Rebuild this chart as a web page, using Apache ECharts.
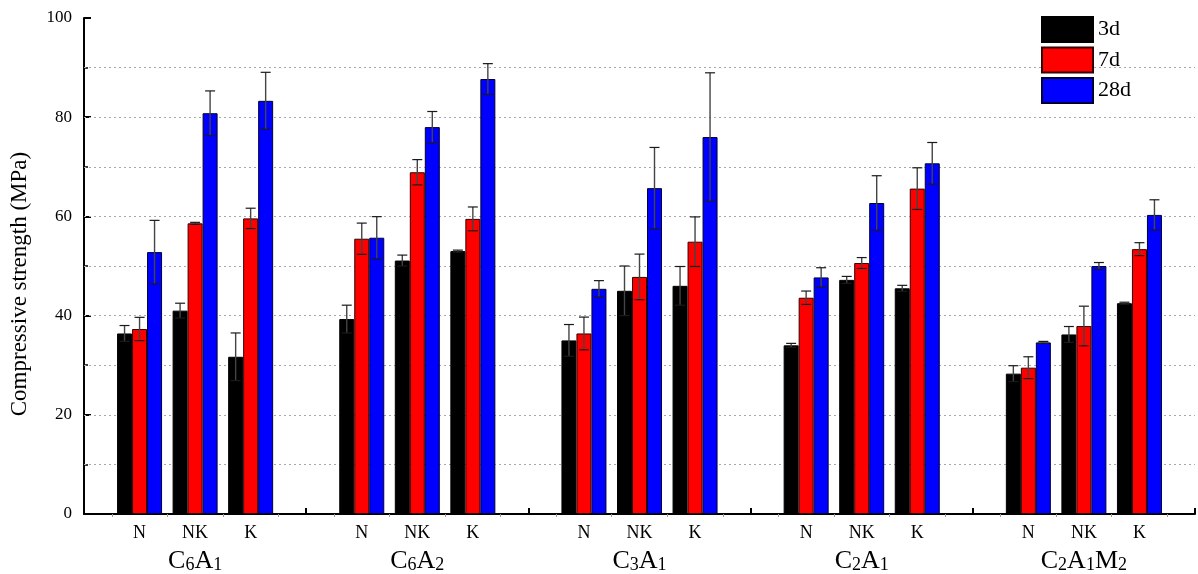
<!DOCTYPE html>
<html>
<head>
<meta charset="utf-8">
<script src="https://cdn.jsdelivr.net/npm/echarts@6/dist/echarts.min.js"></script>
<style>
  html, body { margin: 0; padding: 0; background: #fff; }
  #chart { width: 1198px; height: 574px; }
</style>
</head>
<body>
<div id="chart"></div>
<script>
// Binder compositions and mixes
const groups = ['C6A1', 'C6A2', 'C3A1', 'C2A1', 'C2A1M2'];
const mixes = ['N', 'NK', 'K'];
const ages = ['3d', '7d', '28d'];

// Compressive strength means (MPa), ordered group by group, N / NK / K
const mean3d  = [36.4, 41.0, 31.7,  39.3, 51.1, 53.0,  35.0, 45.0, 46.0,  34.0, 47.2, 45.5,  28.3, 36.2, 42.5];
const mean7d  = [37.3, 58.6, 59.6,  55.5, 68.9, 59.5,  36.4, 47.8, 54.9,  43.6, 50.6, 65.6,  29.5, 37.9, 53.4];
const mean28d = [52.8, 80.8, 83.3,  55.7, 78.0, 87.7,  45.4, 65.7, 76.0,  47.7, 62.7, 70.7,  34.6, 50.0, 60.3];

// Standard deviations (MPa)
const sd3d  = [1.6, 1.5, 4.8,  2.8, 1.1, 0.2,  3.2, 5.0, 3.9,  0.4, 0.7, 0.6,  1.6, 1.6, 0.2];
const sd7d  = [2.35, 0.2, 2.05,  3.15, 2.55, 2.4,  3.3, 4.6, 5.0,  1.35, 1.1, 4.2,  2.2, 4.0, 1.3];
const sd28d = [6.4, 4.5, 5.75,  4.25, 3.15, 3.1,  1.65, 8.2, 12.95,  1.95, 5.5, 4.2,  0.2, 0.7, 3.05];

// Y axis ticks and dashed reference lines
const yMin = 0, yMax = 100, yStep = 20;
const gridValues = [10, 20, 30, 40, 50, 60, 70, 80, 90];

const FONT = '"Liberation Serif", "DejaVu Serif", serif';
const colors = ['#000000', '#ff0000', '#0000ff'];
const borders = ['#000000', '#330000', '#000033'];

// Category slots: an empty slot before, between and after each group of three mixes
const slotLabels = [''];
const slotGroup = [''];
groups.forEach((g) => {
  mixes.forEach((m, j) => {
    slotLabels.push(m);
    slotGroup.push(j === 1 ? g : '');
  });
  slotLabels.push('');
  slotGroup.push('');
});

function toSlots(values) {
  const out = [];
  out.push(null);
  for (let gi = 0; gi < groups.length; gi++) {
    for (let j = 0; j < mixes.length; j++) out.push(values[gi * mixes.length + j]);
    out.push(null);
  }
  return out;
}

const means = [mean3d, mean7d, mean28d];
const sds = [sd3d, sd7d, sd28d];
const BAR_W = 15;

// "C6A1" -> rich text with digits as subscripts
function subscriptLabel(s) {
  if (!s) return '';
  return s.replace(/([A-Z]+)|(\d+)/g, (m, letters, digits) =>
    letters ? '{b|' + letters + '}' : '{s|' + digits + '}');
}

const series = [];
ages.forEach((age, i) => {
  series.push({
    name: age,
    type: 'bar',
    xAxisIndex: 0,
    yAxisIndex: 0,
    barWidth: BAR_W,
    barGap: '0%',
    data: toSlots(means[i]),
    itemStyle: { color: colors[i], borderColor: borders[i], borderWidth: 1 },
    emphasis: { disabled: true },
    z: 2,
    markLine: i === 0 ? {
      silent: true,
      symbol: ['none', 'none'],
      label: { show: false },
      lineStyle: { color: '#a8a8a8', type: [2, 3], width: 1 },
      data: gridValues.map(v => ({ yAxis: v })),
      z: 1
    } : undefined
  });
});

// Error bars (mean ± SD) drawn over each bar
ages.forEach((age, i) => {
  const m = toSlots(means[i]);
  const s = toSlots(sds[i]);
  const data = [];
  m.forEach((v, k) => {
    if (v !== null) data.push([k, v - s[k], v + s[k]]);
  });
  series.push({
    type: 'custom',
    xAxisIndex: 0,
    yAxisIndex: 0,
    silent: true,
    z: 5,
    data: data,
    renderItem: function (params, api) {
      const x = api.value(0);
      const lo = api.coord([x, api.value(1)]);
      const hi = api.coord([x, api.value(2)]);
      const cx = lo[0] + (i - 1) * BAR_W;
      const cap = 5;
      const style = { stroke: '#1a1a1a', lineWidth: 1.2 };
      return {
        type: 'group',
        children: [
          { type: 'line', shape: { x1: cx, y1: lo[1], x2: cx, y2: hi[1] }, style: { stroke: '#444', lineWidth: 1.4 } },
          { type: 'line', shape: { x1: cx - cap, y1: hi[1], x2: cx + cap, y2: hi[1] }, style: style },
          { type: 'line', shape: { x1: cx - cap, y1: lo[1], x2: cx + cap, y2: lo[1] }, style: style }
        ]
      };
    }
  });
});

const chart = echarts.init(document.getElementById('chart'), null, { renderer: 'canvas' });

chart.setOption({
  backgroundColor: '#ffffff',
  animation: false,
  grid: { left: 84, right: 2, top: 18, bottom: 57, containLabel: false },
  legend: {
    orient: 'vertical',
    left: 1041,
    top: 16,
    padding: 0,
    icon: 'rect',
    itemWidth: 51,
    itemHeight: 25,
    itemGap: 3.5,
    selectedMode: false,
    data: ages,
    textStyle: { fontFamily: FONT, fontSize: 22, color: '#000' }
  },
  xAxis: [
    {
      type: 'category',
      data: slotLabels,
      boundaryGap: false,
      position: 'bottom',
      axisLine: { lineStyle: { color: '#000', width: 2 } },
      axisTick: { show: true, inside: true, length: 6, interval: 0, lineStyle: { color: '#000', width: 2 } },
      axisLabel: { interval: 0, margin: 10, fontFamily: FONT, fontSize: 18, color: '#000' },
      splitLine: { show: false }
    },
    {
      type: 'category',
      data: slotGroup,
      boundaryGap: false,
      position: 'bottom',
      offset: 28,
      axisLine: { show: false },
      axisTick: { show: false },
      axisLabel: {
        interval: 0,
        margin: 4,
        formatter: subscriptLabel,
        rich: {
          b: { fontFamily: FONT, fontSize: 26, color: '#000', verticalAlign: 'bottom', lineHeight: 28 },
          s: { fontFamily: FONT, fontSize: 18, color: '#000', verticalAlign: 'bottom', lineHeight: 25 }
        }
      },
      splitLine: { show: false }
    },
    {
      type: 'value',
      min: 0,
      max: slotLabels.length - 1,
      interval: 1,
      position: 'bottom',
      axisLine: { show: false },
      axisTick: { show: false },
      axisLabel: { show: false },
      minorTick: { show: true, splitNumber: 2, length: 3, lineStyle: { color: '#999', width: 1 } },
      splitLine: { show: false }
    }
  ],
  yAxis: {
    type: 'value',
    min: yMin,
    max: yMax,
    interval: yStep,
    axisLine: { show: true, lineStyle: { color: '#000', width: 2 } },
    axisTick: { show: true, inside: true, length: 7, lineStyle: { color: '#000', width: 2 } },
    minorTick: { show: true, splitNumber: 2, length: 4, lineStyle: { color: '#000', width: 1.5 } },
    axisLabel: { margin: 12, fontFamily: FONT, fontSize: 17, color: '#000' },
    splitLine: { show: false }
  },
  graphic: [
    {
      type: 'text',
      x: 20,
      y: 284,
      rotation: Math.PI / 2,
      style: {
        text: 'Compressive strength (MPa)',
        fontFamily: FONT,
        fontSize: 23,
        fill: '#000',
        align: 'center',
        verticalAlign: 'middle'
      }
    }
  ],
  series: series
});
</script>
</body>
</html>
